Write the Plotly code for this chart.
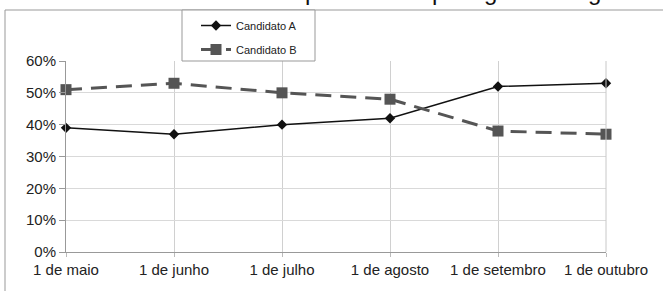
import plotly.graph_objects as go

categories = ["1 de maio", "1 de junho", "1 de julho", "1 de agosto", "1 de setembro", "1 de outubro"]
candidato_a = [39, 37, 40, 42, 52, 53]
candidato_b = [51, 53, 50, 48, 38, 37]
y_ticks = [0, 10, 20, 30, 40, 50, 60]
y_tick_labels = ["0%", "10%", "20%", "30%", "40%", "50%", "60%"]
header_text = "de voto como o apresentado pelo gráfico seguinte"

fig = go.Figure()
fig.add_trace(go.Scatter(
    x=categories, y=candidato_a, name="Candidato A", mode="lines+markers",
    line=dict(color="#111111", width=1.5),
    marker=dict(symbol="diamond", size=8, color="#111111"),
    cliponaxis=False, legendgroup="a",
))
fig.add_trace(go.Scatter(
    x=categories, y=candidato_b, name="Candidato B", mode="lines+markers",
    line=dict(color="#555555", width=3, dash="16px,9px"),
    marker=dict(symbol="square", size=11, color="#555555"),
    cliponaxis=False, legendgroup="b",
))

W, H = 663, 291
L, R, T, B = 66, 57, 61, 39
pw, ph = W - L - R, H - T - B

def px_x(x):
    return (x - L) / pw

def px_y(y):
    return (H - B - y) / ph

fig.update_layout(
    width=W, height=H,
    margin=dict(l=L, r=R, t=T, b=B, autoexpand=False),
    paper_bgcolor="white", plot_bgcolor="white",
    font=dict(family="Liberation Sans, Arial, sans-serif", size=15, color="#222222"),
    showlegend=True,
    legend=dict(
        x=px_x(196), y=px_y(11), xanchor="left", yanchor="top",
        bgcolor="rgba(0,0,0,0)", borderwidth=0,
        font=dict(size=11, color="#222222"),
        traceorder="grouped", tracegroupgap=5,
        itemwidth=30,
    ),
    xaxis=dict(
        type="category", range=[0, len(categories) - 1],
        showgrid=True, gridcolor="#d0d0d0", gridwidth=1,
        showline=True, linecolor="#999999", linewidth=1,
        ticks="outside", ticklen=4, tickcolor="#bbbbbb",
        tickfont=dict(size=15, color="#222222"),
        fixedrange=True, automargin=False,
    ),
    yaxis=dict(
        range=[0, 60], tickvals=y_ticks, ticktext=y_tick_labels,
        showgrid=True, gridcolor="#d9d9d9", gridwidth=1,
        showline=True, linecolor="#999999", linewidth=1,
        ticks="outside", ticklen=6, tickcolor="#999999",
        tickfont=dict(size=15, color="#222222"),
        zeroline=False, fixedrange=True, automargin=False,
    ),
    shapes=[
        dict(type="line", xref="paper", yref="paper",
             x0=px_x(5), x1=px_x(5), y0=px_y(10), y1=px_y(300),
             line=dict(color="#999999", width=1)),
        dict(type="line", xref="paper", yref="paper",
             x0=px_x(5), x1=px_x(670), y0=px_y(10), y1=px_y(10),
             line=dict(color="#999999", width=1)),
        dict(type="line", xref="paper", yref="paper",
             x0=1, x1=1, y0=0, y1=1,
             line=dict(color="#c8c8c8", width=1)),
        dict(type="rect", xref="paper", yref="paper", layer="above",
             x0=px_x(182), x1=px_x(315), y0=px_y(61), y1=px_y(10),
             fillcolor="white", line=dict(color="#999999", width=1)),
    ],
    annotations=[
        dict(text=header_text, xref="paper", yref="paper",
             x=px_x(655), y=px_y(7), xanchor="right", yanchor="bottom",
             showarrow=False, font=dict(size=24, color="#111111",
                                        family="Liberation Sans, Arial, sans-serif")),
    ],
)

fig.write_html(
    "out.html",
    config={"displayModeBar": False},
    post_script="document.body.style.margin='0';document.body.style.overflow='hidden';",
)
